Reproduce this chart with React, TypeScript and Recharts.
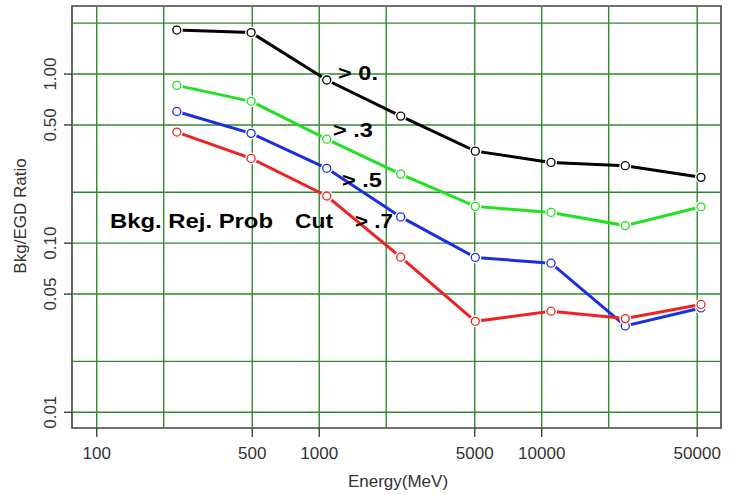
import React from 'react';
import { LineChart, Line, XAxis, YAxis, ReferenceLine, ReferenceArea } from 'recharts';

const energies = [229, 494, 1081, 2324, 5030, 11010, 23750, 52000];
const cut0 = [1.82, 1.76, 0.922, 0.564, 0.35, 0.3, 0.287, 0.245];
const cut3 = [0.857, 0.69, 0.412, 0.256, 0.165, 0.152, 0.127, 0.164];
const cut5 = [0.601, 0.446, 0.277, 0.143, 0.0823, 0.0761, 0.0324, 0.0414];
const cut7 = [0.454, 0.317, 0.19, 0.0826, 0.0345, 0.0396, 0.0358, 0.0434];

const xTicks = [100, 500, 1000, 5000, 10000, 50000];
const yTicks = [0.01, 0.05, 0.1, 0.5, 1];
const yTickLabels = ['0.01', '0.05', '0.10', '0.50', '1.00'];
const gridX = [100, 200, 500, 1000, 2000, 5000, 10000, 20000, 50000];
const gridY = [0.01, 0.02, 0.05, 0.1, 0.2, 0.5, 1, 2];
const xDomain = [77.4, 63960];
const yDomain = [0.00807, 2.526];

const data = energies.map((e, i) => ({ e, c0: cut0[i], c3: cut3[i], c5: cut5[i], c7: cut7[i] }));

const FONT = '"Liberation Sans", Arial, sans-serif';
const GRID = '#2f8a2f';

const makeDot = (color: string) => (props: any) => {
  const { cx, cy, index } = props;
  if (cx == null || cy == null) return <g key={index} />;
  return (
    <g key={`d-${color}-${index}`}>
      <circle cx={cx} cy={cy} r={6} fill="#fff" stroke="none" />
      <circle cx={cx} cy={cy} r={4} fill="none" stroke={color} strokeWidth={1.3} />
    </g>
  );
};

const YTick = (props: any) => {
  const { x, y, payload } = props;
  const idx = yTicks.indexOf(payload.value);
  const label = idx >= 0 ? yTickLabels[idx] : String(payload.value);
  return (
    <text
      x={x}
      y={y}
      transform={`rotate(-90, ${x}, ${y})`}
      textAnchor="middle"
      fontSize={17}
      fontFamily={FONT}
      fill="#333"
    >
      {label}
    </text>
  );
};

const series = [
  { key: 'c0', color: '#000000' },
  { key: 'c3', color: '#22e022' },
  { key: 'c5', color: '#1a2ee6' },
  { key: 'c7', color: '#ee2222' },
];

export default function App() {
  return (
    <div style={{ position: 'absolute', left: 0, top: 0, width: 730, height: 495, background: '#fff' }}>
      <LineChart
        width={730}
        height={495}
        data={data}
        margin={{ top: 6, right: 9, bottom: 0, left: 0 }}
      >
        <XAxis
          dataKey="e"
          type="number"
          scale="log"
          domain={xDomain}
          allowDataOverflow
          ticks={xTicks}
          height={67}
          tickSize={9}
          tickMargin={10}
          axisLine={false}
          tickLine={{ stroke: '#333', strokeWidth: 1.3 }}
          tick={{ fontSize: 17, fontFamily: FONT, fill: '#333' }}
          interval={0}
        />
        <YAxis
          type="number"
          scale="log"
          domain={yDomain}
          allowDataOverflow
          ticks={yTicks}
          width={72}
          tickSize={8}
          tickMargin={8}
          axisLine={false}
          tickLine={{ stroke: '#333', strokeWidth: 1.3 }}
          tick={<YTick />}
          interval={0}
        />
        {gridX.map((v) => (
          <ReferenceLine key={`gx${v}`} x={v} stroke={GRID} strokeWidth={1.4} />
        ))}
        {gridY.map((v) => (
          <ReferenceLine key={`gy${v}`} y={v} stroke={GRID} strokeWidth={1.4} />
        ))}
        <ReferenceArea
          x1={xDomain[0]}
          x2={xDomain[1]}
          y1={yDomain[0]}
          y2={yDomain[1]}
          fill="none"
          fillOpacity={0}
          stroke="#404040"
          strokeWidth={1.6}
          ifOverflow="visible"
        />
        {series.map((s) => (
          <Line
            key={s.key}
            dataKey={s.key}
            stroke={s.color}
            strokeWidth={3}
            dot={makeDot(s.color)}
            activeDot={false}
            isAnimationActive={false}
            type="linear"
          />
        ))}
      </LineChart>
      <svg
        width={730}
        height={495}
        style={{ position: 'absolute', left: 0, top: 0, pointerEvents: 'none' }}
      >
        <g fontFamily={FONT} fontWeight="bold" fontSize={21} fill="#000">
          <text x={338} y={80} textLength={40} lengthAdjust="spacingAndGlyphs">&gt; 0.</text>
          <text x={333} y={137} textLength={40} lengthAdjust="spacingAndGlyphs">&gt; .3</text>
          <text x={342} y={187} textLength={40} lengthAdjust="spacingAndGlyphs">&gt; .5</text>
          <text x={110} y={228} textLength={163} lengthAdjust="spacingAndGlyphs">Bkg. Rej. Prob</text>
          <text x={295} y={228} textLength={38} lengthAdjust="spacingAndGlyphs">Cut</text>
          <text x={355} y={228} textLength={38} lengthAdjust="spacingAndGlyphs">&gt; .7</text>
        </g>
        <text x={398} y={487} textAnchor="middle" fontFamily={FONT} fontSize={17} fill="#333">
          Energy(MeV)
        </text>
        <text
          x={26}
          y={216}
          transform="rotate(-90, 26, 216)"
          textAnchor="middle"
          fontFamily={FONT}
          fontSize={17}
          fill="#333"
        >
          Bkg/EGD Ratio
        </text>
      </svg>
    </div>
  );
}
